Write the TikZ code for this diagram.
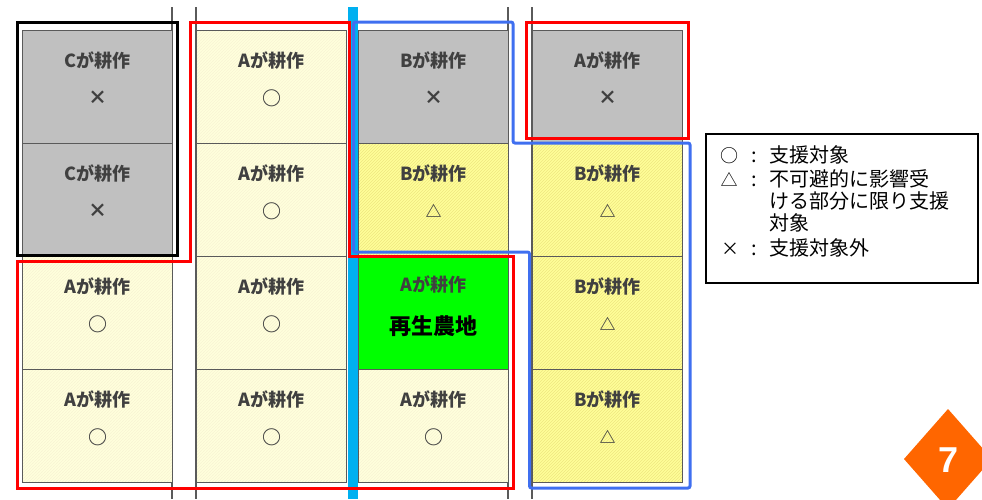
\documentclass[tikz,border=0pt]{standalone}
\usepackage{fontspec}
\setmainfont{Noto Sans CJK JP}
\newfontfamily\digitfont{Liberation Sans}
\usetikzlibrary{patterns}
\definecolor{cellgray}{HTML}{C0C0C0}
\definecolor{cream}{HTML}{FFFFDC}
\definecolor{creamhatch}{HTML}{F8F4D4}
\definecolor{byellow}{HTML}{FFFF99}
\definecolor{yhatch}{HTML}{EEE680}
\definecolor{farmgreen}{HTML}{00FF00}
\definecolor{roadcyan}{HTML}{00B0F0}
\definecolor{zoneblue}{HTML}{3F6FF0}
\definecolor{zonered}{HTML}{FF0000}
\definecolor{badgeorange}{HTML}{FF6600}
\definecolor{txt}{HTML}{404040}
\definecolor{edge}{HTML}{5A5A5A}

\newcommand\fieldcell[6]{%
  \node[cellbox,#4] (#1) at (#2,#3) {};
  \node[celltext] (#1-l) at ([yshift=-34pt]#1.north) {#5};
  \node[cellsym] (#1-s) at ([yshift=-68pt]#1.north) {#6};
}

\begin{document}
\begin{tikzpicture}[x=1pt,y=-1pt,
  cellbox/.style={draw=edge, line width=1.1pt, minimum width=150pt, minimum height=113pt, inner sep=0pt, anchor=north west},
  grayfield/.style={fill=cellgray},
  creamfield/.style={preaction={fill=cream}, pattern=north east lines, pattern color=creamhatch},
  yellowfield/.style={preaction={fill=byellow}, pattern=north east lines, pattern color=yhatch},
  greenfield/.style={fill=farmgreen},
  celltext/.style={font=\fontsize{18}{20}\selectfont\bfseries, text=txt, inner sep=0pt, text height=0.88em, text depth=0.12em},
  cellsym/.style={font=\fontsize{19}{22}\selectfont\bfseries, text=txt, inner sep=0pt},
  roadline/.style={draw=edge, line width=1.3pt},
  zone/.style={line width=3pt, line join=miter},
  legtext/.style={font=\fontsize{20}{23}\selectfont, text=black, inner sep=0pt, text height=0.88em, text depth=0.12em},
]
\useasboundingbox (0,0) rectangle (982,499);

% field roads (thin lines)
\coordinate (r1t) at (172,7);  \coordinate (r1b) at (172,499);
\coordinate (r2t) at (196,7);  \coordinate (r2b) at (196,499);
\coordinate (r3t) at (508,7);  \coordinate (r3b) at (508,499);
\coordinate (r4t) at (532,7);  \coordinate (r4b) at (532,499);
\draw[roadline] (r1t) -- (r1b);
\draw[roadline] (r2t) -- (r2b);
\draw[roadline] (r3t) -- (r3b);
\draw[roadline] (r4t) -- (r4b);

% column 1
\fieldcell{c11}{22}{30}{grayfield}{Cが耕作}{×}
\fieldcell{c12}{22}{143}{grayfield}{Cが耕作}{×}
\fieldcell{c13}{22}{256}{creamfield}{Aが耕作}{○}
\fieldcell{c14}{22}{369}{creamfield}{Aが耕作}{○}
% column 2
\fieldcell{c21}{196}{30}{creamfield}{Aが耕作}{○}
\fieldcell{c22}{196}{143}{creamfield}{Aが耕作}{○}
\fieldcell{c23}{196}{256}{creamfield}{Aが耕作}{○}
\fieldcell{c24}{196}{369}{creamfield}{Aが耕作}{○}
% column 3
\fieldcell{c31}{358}{30}{grayfield}{Bが耕作}{×}
\fieldcell{c32}{358}{143}{yellowfield}{Bが耕作}{\fontsize{16}{18}\selectfont △}
\node[cellbox,greenfield] (c33) at (358,256) {};
\node[celltext] (c33-l) at ([yshift=-32pt]c33.north) {Aが耕作};
\node[celltext, font=\fontsize{22}{24}\selectfont\bfseries, text=black] (c33-s) at ([yshift=-75pt]c33.north) {再生農地};
\fieldcell{c34}{358}{369}{creamfield}{Aが耕作}{○}
% column 4
\fieldcell{c41}{532}{30}{grayfield}{Aが耕作}{×}
\fieldcell{c42}{532}{143}{yellowfield}{Bが耕作}{\fontsize{16}{18}\selectfont △}
\fieldcell{c43}{532}{256}{yellowfield}{Bが耕作}{\fontsize{16}{18}\selectfont △}
\fieldcell{c44}{532}{369}{yellowfield}{Bが耕作}{\fontsize{16}{18}\selectfont △}

% waterway
\fill[roadcyan] (348,7) rectangle (358,499);

% zones
\draw[zone, draw=black] (17,22) rectangle (177,255);
\draw[zone, draw=zoneblue, rounded corners=2pt] (353.5,22) -- (513,22) -- (513,143) -- (690,143) -- (690,488) -- (529.5,488) -- (529.5,252) -- (353.5,252) -- cycle;
\draw[zone, draw=zonered] (190.5,22) -- (349,22) -- (349,256) -- (513.5,256) -- (513.5,488) -- (17,488) -- (17,261) -- (190.5,261) -- cycle;
\draw[zone, draw=zonered] (526,22) rectangle (688,138);

% legend
\node[draw=black, line width=1.5pt, minimum width=272pt, minimum height=149pt, anchor=north west, inner sep=0pt] (legend) at (705,133) {};
\node[legtext, font=\fontsize{18}{23}\selectfont] (l1s) at (729,159) {○};
\node[legtext] (l1c) at (754,159) {:};
\node[legtext, anchor=west] (l1t) at (769,159) {支援対象};
\node[legtext, font=\fontsize{17}{20}\selectfont] (l2s) at (729,183) {△};
\node[legtext] (l2c) at (754,183) {:};
\node[legtext, anchor=west] (l2t) at (769,183) {不可避的に影響受};
\node[legtext, anchor=west] (l3t) at (769,205) {ける部分に限り支援};
\node[legtext, anchor=west] (l4t) at (769,227) {対象};
\node[legtext, font=\fontsize{18}{20}\selectfont] (l5s) at (730,252) {×};
\node[legtext] (l5c) at (754,252) {:};
\node[legtext, anchor=west] (l5t) at (769,252) {支援対象外};

% badge
\begin{scope}
\clip (0,0) rectangle (982,499);
\fill[badgeorange] (948,409) -- (992,459) -- (948,509) -- (904,459) -- cycle;
\end{scope}
\node[font=\digitfont\bfseries\fontsize{36}{40}\selectfont, text=white, inner sep=0pt] (badge7) at (948,460) {7};
\end{tikzpicture}
\end{document}
